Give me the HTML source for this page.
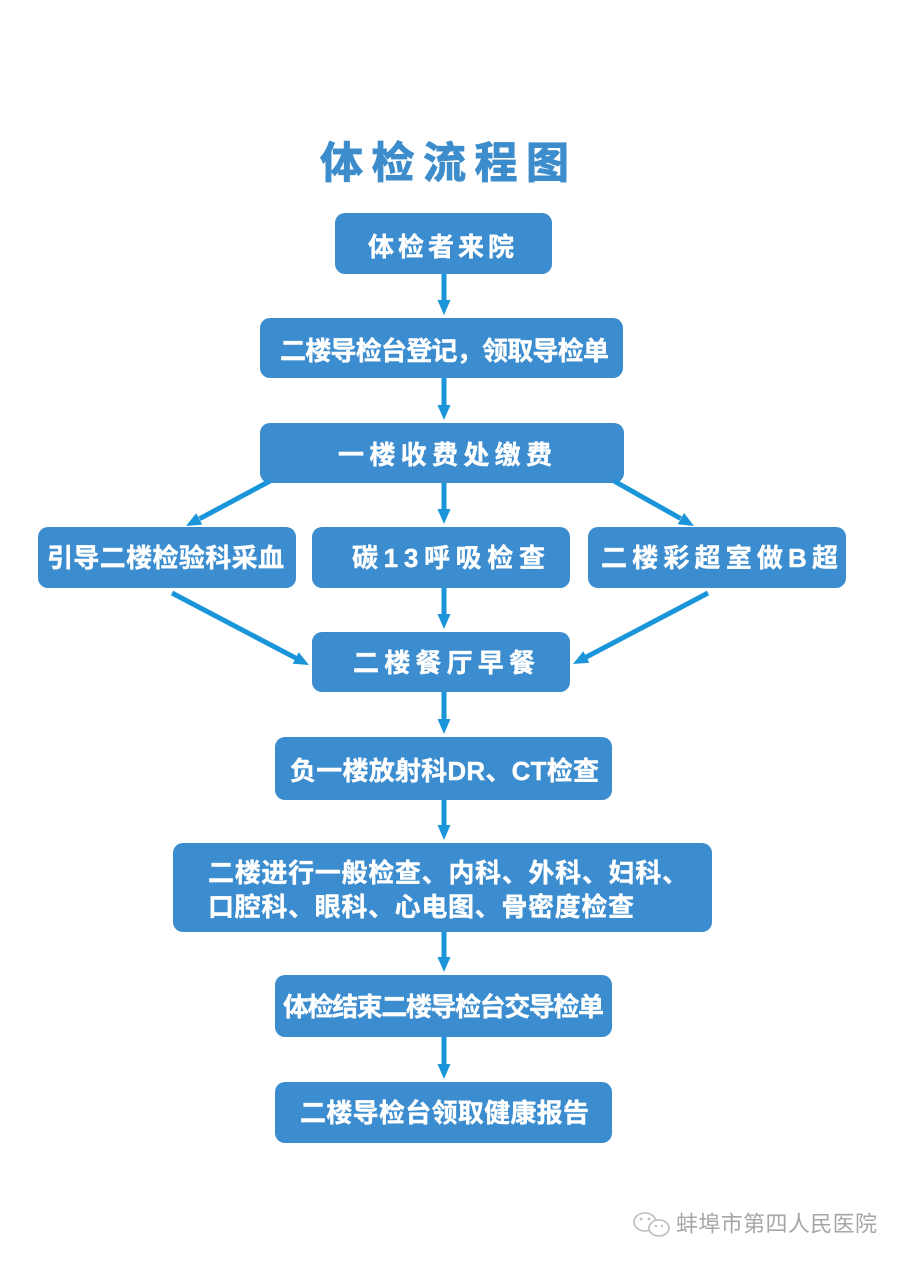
<!DOCTYPE html>
<html><head><meta charset="utf-8"><style>
html,body{margin:0;padding:0;background:#fff;}
svg{display:block;}
text{font-family:"Liberation Sans","Noto Sans CJK SC",sans-serif;}
</style></head><body>
<svg width="904" height="1266" viewBox="0 0 904 1266" xmlns="http://www.w3.org/2000/svg">
<rect width="904" height="1266" fill="#ffffff"/>
<text x="320" y="164" font-size="43" font-weight="bold" fill="#3d8dcc" stroke="#3d8dcc" stroke-width="1" dominant-baseline="central" textLength="249" lengthAdjust="spacing">体检流程图</text>
<g fill="#3c8dcf">
<rect x="335" y="213" width="217" height="61" rx="10"/>
<rect x="260" y="318" width="363" height="60" rx="10"/>
<rect x="260" y="423" width="364" height="60" rx="10"/>
<rect x="38" y="527" width="258" height="61" rx="10"/>
<rect x="312" y="527" width="258" height="61" rx="10"/>
<rect x="588" y="527" width="258" height="61" rx="10"/>
<rect x="312" y="632" width="258" height="60" rx="10"/>
<rect x="275" y="737" width="337" height="63" rx="10"/>
<rect x="173" y="843" width="539" height="89" rx="10"/>
<rect x="275" y="975" width="337" height="62" rx="10"/>
<rect x="275" y="1082" width="337" height="61" rx="10"/>
</g>
<g fill="#ffffff" stroke="#ffffff" stroke-width="0.4" font-size="26" font-weight="bold" dominant-baseline="central">
<text x="368" y="247" textLength="146" lengthAdjust="spacing">体检者来院</text>
<text x="280" y="351" textLength="329" lengthAdjust="spacing">二楼导检台登记，领取导检单</text>
<text x="338" y="455" textLength="214" lengthAdjust="spacing">一楼收费处缴费</text>
<text x="47" y="558" textLength="237" lengthAdjust="spacing">引导二楼检验科采血</text>
<text x="352" y="558" textLength="193" lengthAdjust="spacing">碳13呼吸检查</text>
<text x="601" y="558" textLength="237" lengthAdjust="spacing">二楼彩超室做B超</text>
<text x="353" y="663" textLength="182" lengthAdjust="spacing">二楼餐厅早餐</text>
<text x="290" y="771" textLength="309" lengthAdjust="spacing">负一楼放射科DR、CT检查</text>
<text x="208" y="873" textLength="480" lengthAdjust="spacing">二楼进行一般检查、内科、外科、妇科、</text>
<text x="208" y="907" textLength="426" lengthAdjust="spacing">口腔科、眼科、心电图、骨密度检查</text>
<text x="283" y="1007" textLength="321" lengthAdjust="spacing">体检结束二楼导检台交导检单</text>
<text x="300" y="1113" textLength="289" lengthAdjust="spacing">二楼导检台领取健康报告</text>
</g>
<g fill="#1b95d9" stroke="none">
<rect x="441.5" y="274" width="5" height="27"/><polygon points="437.5,300 450.5,300 444,315"/>
<rect x="441.5" y="378" width="5" height="28"/><polygon points="437.5,405 450.5,405 444,420"/>
<rect x="441.5" y="483" width="5" height="27"/><polygon points="437.5,509 450.5,509 444,524"/>
<rect x="441.5" y="588" width="5" height="27"/><polygon points="437.5,614 450.5,614 444,629"/>
<rect x="441.5" y="692" width="5" height="28"/><polygon points="437.5,719 450.5,719 444,734"/>
<rect x="441.5" y="800" width="5" height="26"/><polygon points="437.5,825 450.5,825 444,840"/>
<rect x="441.5" y="932" width="5" height="26"/><polygon points="437.5,957 450.5,957 444,972"/>
<rect x="441.5" y="1037" width="5" height="28"/><polygon points="437.5,1064 450.5,1064 444,1079"/>
<polygon points="196.1,513.2 202.3,524.6 186,526"/>
<polygon points="677.7,524.3 684.1,513.0 694,526"/>
<polygon points="292.7,663.8 298.7,652.3 309,665"/>
<polygon points="583.3,651.3 589.3,662.8 573,664"/>
</g>
<g stroke="#1b95d9" stroke-width="5" fill="none">
<line x1="270" y1="481" x2="199.5" y2="518.8"/>
<line x1="614" y1="481" x2="680.6" y2="518.5"/>
<line x1="172" y1="593" x2="296" y2="658.2"/>
<line x1="708" y1="593" x2="586" y2="657.2"/>
</g>
<g stroke="#bdbdbd" stroke-width="1.6" fill="none">
<ellipse cx="645" cy="1222" rx="11" ry="9"/>
<ellipse cx="659" cy="1228" rx="10" ry="8" fill="#fff"/>
</g>
<g fill="#bdbdbd">
<circle cx="641" cy="1219" r="1.4"/><circle cx="649" cy="1219" r="1.4"/>
<circle cx="656" cy="1226" r="1.2"/><circle cx="662" cy="1226" r="1.2"/>
</g>
<text x="676" y="1224" font-size="22" fill="#a6a6a6" dominant-baseline="central" textLength="201" lengthAdjust="spacing">蚌埠市第四人民医院</text>
</svg>
</body></html>
